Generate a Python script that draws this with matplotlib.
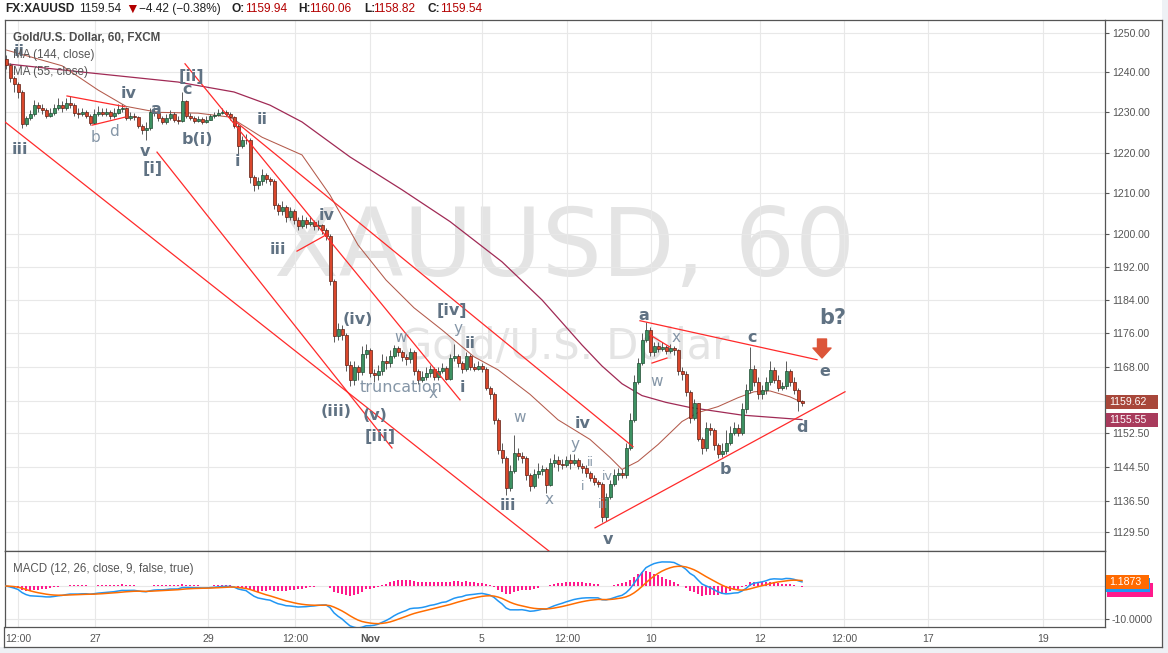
import numpy as np
import pandas as pd
import matplotlib
matplotlib.use("Agg")
import matplotlib.pyplot as plt
from matplotlib.lines import Line2D
from matplotlib.patches import Rectangle
from matplotlib.ticker import NullLocator, NullFormatter

plt.rcParams["font.family"] = ["Liberation Sans", "DejaVu Sans"]

W, H = 1168, 653

# ---------------- data (XAUUSD, 60 min) ----------------
first_open = 1243.5
closes = [
    1242.0, 1238.5, 1237.0, 1235.0, 1227.0, 1228.5, 1229.5, 1231.8, 1231.0, 1230.5,
    1229.2, 1229.8, 1231.2, 1231.8, 1231.0, 1232.3, 1231.8, 1229.8, 1229.5, 1230.0,
    1229.2, 1227.3, 1229.5, 1230.2, 1229.6, 1230.0, 1229.0, 1229.8, 1230.8, 1231.0,
    1228.6, 1229.0, 1228.8, 1226.5, 1225.5, 1226.0, 1230.2, 1229.8, 1228.5, 1227.5,
    1228.6, 1229.5, 1228.0, 1227.8, 1232.8, 1229.0, 1228.5, 1227.9, 1228.3, 1227.6,
    1228.2, 1229.0, 1229.3, 1229.8, 1230.2, 1229.5, 1228.8, 1226.5, 1221.5, 1223.2,
    1223.0, 1214.0, 1212.0, 1213.0, 1214.5, 1213.5, 1213.0, 1207.0, 1205.5, 1206.5,
    1204.0, 1205.5, 1203.5, 1202.0, 1203.5, 1202.5, 1203.0, 1201.8, 1202.2, 1201.0,
    1199.5, 1188.5, 1175.3, 1177.0, 1175.5, 1168.5, 1165.0, 1168.0, 1166.8, 1171.0,
    1172.0, 1166.5, 1166.0, 1167.0, 1169.5, 1169.0, 1170.5, 1172.5, 1171.5, 1170.3,
    1169.8, 1171.5, 1167.0, 1165.0, 1165.5, 1166.5, 1167.5, 1165.5, 1167.0, 1167.8,
    1165.2, 1170.0, 1170.5, 1168.8, 1167.5, 1170.5, 1168.0, 1167.6, 1168.2, 1167.5,
    1163.0, 1161.5, 1155.5, 1148.5, 1146.5, 1139.5, 1143.5, 1147.8, 1147.0, 1146.5,
    1142.5, 1140.0, 1142.8, 1143.5, 1144.0, 1140.2, 1145.5, 1146.0, 1145.2, 1145.0,
    1146.0, 1145.5, 1146.2, 1144.8, 1144.2, 1143.0, 1142.0, 1141.0, 1140.5, 1133.0,
    1137.5, 1140.5, 1142.5, 1143.0, 1142.5, 1149.0, 1155.5, 1164.5, 1169.0, 1174.5,
    1176.8, 1171.5, 1173.0, 1172.3, 1172.8, 1171.8, 1172.6, 1172.0, 1167.0, 1166.3,
    1162.0, 1156.0, 1159.5, 1151.0, 1148.8, 1153.5, 1153.0, 1149.5, 1147.5, 1148.2,
    1150.0, 1152.5, 1153.5, 1152.5, 1158.0, 1162.5, 1167.5, 1164.5, 1161.5, 1162.5,
    1164.5, 1167.3, 1165.0, 1163.0, 1163.5, 1167.0, 1164.5, 1162.5, 1159.94, 1159.54,
]
highs = [
    1244.5, 1242.5, 1239.0, 1237.5, 1235.5, 1229.0, 1230.5, 1233.0, 1232.5, 1232.0,
    1231.0, 1231.0, 1232.0, 1233.5, 1232.8, 1233.5, 1234.0, 1232.3, 1231.0, 1231.0,
    1230.5, 1229.5, 1230.8, 1231.5, 1231.0, 1231.0, 1230.5, 1231.0, 1232.0, 1232.0,
    1231.3, 1230.0, 1229.8, 1229.2, 1227.0, 1227.5, 1231.0, 1231.3, 1230.2, 1229.0,
    1229.5, 1230.5, 1230.0, 1229.0, 1235.0, 1233.0, 1229.8, 1229.0, 1229.0, 1228.8,
    1229.0, 1229.7, 1230.0, 1230.8, 1231.0, 1230.5, 1230.0, 1229.0, 1227.0, 1224.0,
    1224.5, 1223.5, 1214.5, 1214.0, 1216.0, 1215.0, 1214.0, 1213.5, 1207.5, 1208.0,
    1207.0, 1206.5, 1206.0, 1204.0, 1204.5, 1204.0, 1204.3, 1203.5, 1203.5, 1202.5,
    1201.5, 1200.0, 1189.0, 1178.5, 1178.0, 1176.0, 1169.5, 1169.5, 1168.5, 1173.0,
    1173.5, 1172.5, 1167.5, 1168.5, 1171.0, 1170.5, 1172.0, 1173.2, 1173.0, 1172.0,
    1171.0, 1172.5, 1172.0, 1167.5, 1167.0, 1168.0, 1168.5, 1168.0, 1168.0, 1169.0,
    1168.3, 1171.0, 1173.5, 1171.0, 1169.5, 1171.5, 1171.0, 1169.0, 1169.3, 1168.8,
    1168.0, 1163.5, 1162.0, 1156.0, 1150.0, 1147.0, 1145.0, 1152.0, 1149.0, 1148.0,
    1147.0, 1143.0, 1144.0, 1145.5, 1145.0, 1144.5, 1146.5, 1147.5, 1147.0, 1146.3,
    1147.0, 1147.5, 1147.5, 1146.5, 1145.5, 1145.0, 1143.5, 1142.5, 1141.5, 1141.0,
    1138.5, 1141.5, 1144.0, 1144.2, 1144.0, 1150.0, 1157.0, 1166.0, 1170.0, 1176.0,
    1178.8, 1177.5, 1174.0, 1173.8, 1174.0, 1173.3, 1173.4, 1173.0, 1172.3, 1168.0,
    1167.0, 1162.5, 1160.5, 1159.5, 1151.5, 1155.0, 1154.8, 1153.5, 1150.0, 1150.0,
    1153.0, 1154.0, 1155.0, 1154.5, 1159.5, 1164.0, 1172.8, 1168.5, 1165.5, 1163.8,
    1165.5, 1169.5, 1168.0, 1166.0, 1164.5, 1169.5, 1167.5, 1165.5, 1163.0, 1160.06,
]
lows = [
    1241.0, 1237.5, 1235.0, 1233.5, 1226.0, 1226.5, 1228.0, 1229.0, 1230.0, 1229.5,
    1228.5, 1228.8, 1229.3, 1230.5, 1230.2, 1230.5, 1231.0, 1229.0, 1228.5, 1229.0,
    1228.5, 1226.8, 1227.0, 1229.0, 1229.0, 1229.0, 1228.3, 1228.5, 1229.5, 1230.0,
    1228.0, 1228.0, 1228.0, 1226.0, 1224.5, 1223.0, 1225.5, 1229.0, 1227.8, 1227.0,
    1227.0, 1228.0, 1227.5, 1227.0, 1227.5, 1228.5, 1228.0, 1227.3, 1227.5, 1227.0,
    1227.3, 1228.0, 1228.5, 1229.0, 1229.5, 1229.0, 1228.0, 1226.0, 1219.5, 1221.0,
    1222.0, 1212.5, 1210.5, 1211.0, 1212.0, 1212.5, 1212.0, 1206.0, 1204.5, 1204.5,
    1203.0, 1203.5, 1202.5, 1201.0, 1201.5, 1201.5, 1202.0, 1201.0, 1201.0, 1200.0,
    1198.5, 1187.5, 1174.0, 1174.5, 1174.5, 1167.0, 1163.5, 1163.8, 1165.0, 1166.0,
    1170.0, 1165.5, 1164.5, 1165.0, 1166.0, 1167.5, 1168.0, 1170.0, 1170.5, 1169.5,
    1168.5, 1169.0, 1166.0, 1164.0, 1164.5, 1165.0, 1165.5, 1164.8, 1165.0, 1166.5,
    1164.8, 1165.0, 1169.5, 1168.0, 1166.5, 1167.0, 1167.2, 1167.0, 1167.2, 1166.8,
    1162.5, 1160.5, 1154.5, 1147.5, 1145.5, 1138.0, 1139.0, 1143.0, 1146.0, 1145.5,
    1141.5, 1139.0, 1139.5, 1142.0, 1142.5, 1138.5, 1140.0, 1144.5, 1143.5, 1144.0,
    1144.5, 1144.0, 1145.0, 1144.0, 1143.0, 1142.2, 1141.2, 1140.2, 1139.8, 1131.8,
    1132.0, 1137.0, 1140.0, 1141.5, 1141.8, 1142.0, 1148.5, 1155.0, 1164.0, 1168.5,
    1174.0, 1170.5, 1170.5, 1171.5, 1171.8, 1171.0, 1171.3, 1170.8, 1166.0, 1165.0,
    1161.0, 1154.8, 1155.5, 1150.5, 1147.5, 1148.3, 1152.0, 1148.5, 1146.5, 1146.8,
    1147.5, 1149.5, 1152.0, 1151.8, 1152.0, 1157.0, 1161.8, 1163.5, 1160.5, 1160.5,
    1161.5, 1163.8, 1164.2, 1162.3, 1162.5, 1162.8, 1163.5, 1161.5, 1157.5, 1158.82,
]

# moving averages (bar index, value)
ma55_bars = [0, 14, 23, 30, 38, 48, 56, 64, 74, 81, 88, 95, 102, 109, 117, 123,
             131, 138, 146, 151, 154, 158, 163, 169, 173, 178, 183, 187, 191, 196, 199]
ma55_vals = [1245.7, 1241.7, 1235.6, 1231.5, 1230.0, 1229.8, 1228.8, 1223.8, 1219.4,
             1209.5, 1197.3, 1188.8, 1182.1, 1176.8, 1170.4, 1167.3, 1161.5, 1155.5,
             1150.9, 1146.7, 1143.9, 1145.8, 1149.7, 1155.1, 1157.2, 1158.6, 1160.7,
             1162.1, 1162.3, 1160.9, 1159.62]
ma144_bars = [0, 21, 43, 57, 66, 74, 86, 99, 111, 124, 134, 144, 149, 154, 159,
              165, 171, 184, 199]
ma144_vals = [1242.2, 1239.9, 1237.6, 1235.1, 1231.8, 1227.6, 1218.9, 1210.8, 1203.0,
              1193.2, 1184.0, 1173.2, 1168.2, 1164.0, 1161.2, 1159.6, 1158.4, 1156.6,
              1155.55]

# hand-drawn trend lines (bar index, price)
trend_start = [(-0.25, 1227.6), (37.75, 1220.1), (44.75, 1242.2), (57.5, 1227.6),
               (15.25, 1234.1), (21.5, 1226.8), (72.75, 1195.8), (161.0, 1175.6),
               (161.5, 1168.9), (158.5, 1179.0), (147.25, 1130.4)]
trend_end = [(136.0, 1124.9), (96.5, 1148.9), (113.5, 1160.2), (156.75, 1149.2),
             (29.75, 1231.4), (29.75, 1228.8), (80.5, 1200.0), (166.0, 1172.7),
             (165.25, 1170.1), (202.75, 1169.7), (209.75, 1162.1)]

price_ticks = [1250, 1240, 1230, 1220, 1210, 1200, 1192, 1184, 1176, 1168, 1160,
               1152.5, 1144.5, 1136.5, 1129.5]
time_ticks = [3.0, 22.25, 50.5, 72.25, 91.0, 119.0, 140.25, 161.25, 188.5, 209.5,
              230.5, 259.25]
time_labels = ["12:00", "27", "29", "12:00", "Nov", "5", "12:00", "10", "12",
               "12:00", "17", "19"]
macd_last = 1.1873

# wave-count annotations: text, pixel x, pixel y, style
wave_labels = [
    ("ii", 19, 52, "b"), ("iii", 20, 150, "b"), ("b", 95, 137, "l"),
    ("d", 114, 132, "l"), ("iv", 129, 93, "b"), ("a", 156, 110, "b"),
    ("v", 145, 152, "b"), ("[i]", 153, 169, "b"), ("[ii]", 191, 77, "b"),
    ("c", 187, 90, "b"), ("b(i)", 197, 140, "b"), ("i", 237, 161, "b"),
    ("ii", 262, 119, "b"), ("iii", 278, 250, "b"), ("iv", 327, 215, "b"),
    ("(iv)", 358, 320, "b"), ("w", 401, 337, "l"), ("[iv]", 452, 311, "b"),
    ("y", 458, 328, "l"), ("ii", 470, 343, "b"), ("truncation", 401, 388, "t"),
    ("x", 433, 393, "l"), ("i", 462, 388, "b"), ("(iii)", 336, 412, "b"),
    ("(v)", 375, 415, "b"), ("[iii]", 380, 437, "b"), ("w", 520, 418, "l"),
    ("iii", 508, 506, "b"), ("x", 549, 500, "l"), ("y", 575, 445, "l"),
    ("iv", 583, 423, "b"), ("ii", 590, 463, "s"), ("i", 583, 487, "s"),
    ("iv", 607, 476, "s"), ("iii", 603, 504, "s"), ("v", 608, 540, "b"),
    ("a", 644, 315, "b"), ("x", 676, 337, "l"), ("w", 657, 382, "l"),
    ("b", 725, 469, "b"), ("c", 752, 337, "b"), ("d", 802, 428, "b"),
    ("e", 825, 372, "b"), ("b?", 833, 318, "big"),
]

UP, DOWN = "#3d9162", "#d9472c"
GRID = "#e8e8e8"
FRAME = "#555555"

# ---------------- figure ----------------
fig = plt.figure(figsize=(W / 100, H / 100), dpi=100)
fig.patch.set_facecolor("white")


def fx(px):
    return px / W


def fy(py):
    return 1 - py / H


ax = fig.add_axes([fx(5), fy(551), fx(1105) - fx(5), fy(20) - fy(551)])
ax2 = fig.add_axes([fx(5), fy(627), fx(1105) - fx(5), fy(551) - fy(627)])

xlim = (-0.25, 274.75)
ax.set_xlim(*xlim)
ax2.set_xlim(*xlim)
ax.set_yscale("log")
ax.set_ylim(1125.1, 1253.3)
ax2.set_ylim(-12.4, 10.6)


def to_data(px, py):
    return ax.transData.inverted().transform((px, H - py))


# price axis
ax.set_yticks(price_ticks, labels=["%.2f" % v for v in price_ticks])
ax.yaxis.set_minor_locator(NullLocator())
ax.yaxis.set_minor_formatter(NullFormatter())
ax.yaxis.tick_right()
ax.tick_params(axis="y", direction="out", length=3, width=0.8, color=FRAME,
               labelsize=7.6, labelcolor="#555555", pad=2)
ax.set_xticks(time_ticks, labels=[""] * len(time_ticks))
ax.tick_params(axis="x", length=0)
ax.grid(True, color=GRID, lw=0.8)
ax.set_axisbelow(True)

ax2.set_yticks([0, -10], labels=["0.0000", "-10.0000"])
ax2.yaxis.tick_right()
ax2.tick_params(axis="y", direction="out", length=3, width=0.8, color=FRAME,
                labelsize=7.6, labelcolor="#555555", pad=2)
ax2.set_xticks(time_ticks, labels=time_labels)
ax2.tick_params(axis="x", length=0, labelsize=7.6, labelcolor="#555555", pad=5)
ax2.get_xticklabels()[4].set_fontweight("bold")
ax2.grid(True, color=GRID, lw=0.8)
ax2.set_axisbelow(True)

for a in (ax, ax2):
    for s in a.spines.values():
        s.set_color(FRAME)
        s.set_linewidth(0.9)

# watermark
wx, wy = to_data(565, 250)
ax.text(wx, wy, "XAUUSD, 60", fontsize=68, color="#e4e4e4", ha="center",
        va="center", family="DejaVu Sans", zorder=0.5)
wx, wy = to_data(565, 347)
ax.text(wx, wy, "Gold/U.S. Dollar", fontsize=30, color="#e4e4e4", ha="center",
        va="center", family="DejaVu Sans", zorder=0.5)

# moving averages
ax.plot(ma144_bars, ma144_vals, color="#a02a55", lw=0.9, zorder=2)
ax.plot(ma55_bars, ma55_vals, color="#b35a4b", lw=0.75, zorder=2)

# candles
x = np.arange(len(closes))
c = np.array(closes)
o = np.array([first_open] + closes[:-1])
up = c >= o
ax.vlines(x, lows, highs, color="#5a5a5a", lw=0.7, zorder=3)
ax.bar(x, np.maximum(np.abs(c - o), 0.2), bottom=np.minimum(o, c), width=0.75,
       color=np.where(up, UP, DOWN), edgecolor=np.where(up, "#1e4a30", "#5e1d12"),
       linewidth=0.5, zorder=4)

# trend lines
for (x0, y0), (x1, y1) in zip(trend_start, trend_end):
    ax.plot([x0, x1], [y0, y1], color="#ff2a2a", lw=0.9, zorder=5)

# wave labels
styles = {
    "b": dict(fontsize=11.5, fontweight="bold", color="#607283"),
    "l": dict(fontsize=11, color="#8596a7"),
    "t": dict(fontsize=11.5, color="#8596a7"),
    "s": dict(fontsize=9, color="#8596a7"),
    "big": dict(fontsize=15, fontweight="bold", color="#607283"),
}
for txt, px, py, st in wave_labels:
    lx, ly = to_data(px, py)
    ax.text(lx, ly, txt, ha="center", va="center", family="DejaVu Sans",
            zorder=6, **styles[st])

# sell arrow
a0 = to_data(822, 339)
a1 = to_data(822, 358)
ax.annotate("", xy=a1, xytext=a0,
            arrowprops=dict(arrowstyle="simple,head_length=0.55,head_width=1.0,tail_width=0.5",
                            color="#dc5539", mutation_scale=13, shrinkA=0, shrinkB=0),
            zorder=6)

# MACD
cs = pd.Series(closes)
macd = cs.ewm(span=12, adjust=False).mean() - cs.ewm(span=26, adjust=False).mean()
signal = macd.ewm(span=9, adjust=False).mean()
hist = macd - signal
ax2.bar(x, hist, width=0.35, color="#ff1a8c", zorder=2)
ax2.plot(x, macd, color="#2196f3", lw=1.1, zorder=3)
ax2.plot(x, signal, color="#ff6d00", lw=1.1, zorder=3)

# texts
fig.text(fx(13), fy(38), "Gold/U.S. Dollar, 60, FXCM", fontsize=8.4,
         fontweight="bold", color="#4d4d4d", va="center")
fig.text(fx(13), fy(55), "MA (144, close)", fontsize=8.4, color="#555555", va="center")
fig.text(fx(13), fy(72), "MA (55, close)", fontsize=8.4, color="#555555", va="center")
fig.text(fx(13), fy(569), "MACD (12, 26, close, 9, false, true)", fontsize=8.3,
         color="#555555", va="center")

header = [("FX:XAUUSD", 5, "bold", "#222222"), ("1159.54", 79, "normal", "#222222"),
          ("\u25bc", 125, "normal", "#b20000"), ("\u22124.42 (\u22120.38%)", 139, "normal", "#222222"),
          ("O:", 232, "bold", "#222222"), ("1159.94", 245, "normal", "#b30000"),
          ("H:", 298, "bold", "#222222"), ("1160.06", 309, "normal", "#b30000"),
          ("L:", 364, "bold", "#222222"), ("1158.82", 373, "normal", "#b30000"),
          ("C:", 427, "bold", "#222222"), ("1159.54", 440, "normal", "#b30000")]
for txt, px, wt, col in header:
    size = 10 if txt == "\u25bc" else 8.6
    fig.text(fx(px), fy(9), txt, fontsize=size, fontweight=wt, color=col, va="center")


# value boxes on the scales
def box(a, value, text, color, width, dx=0, dy=0, show=True):
    yd = a.transData.transform((0, value))[1] - dy
    fig.patches.append(Rectangle(((1106 + dx) / W, (yd - 7) / H), width / W, 14 / H,
                                 transform=fig.transFigure, facecolor=color,
                                 edgecolor="none", zorder=5))
    if show:
        fig.text((1109 + dx) / W, yd / H, text, color="white", fontsize=7.6,
                 va="center", ha="left", zorder=6)


box(ax, ma55_vals[-1], "%.2f" % ma55_vals[-1], "#a8473a", 52)
box(ax, ma144_vals[-1], "%.2f" % ma144_vals[-1], "#a83b5c", 52)
box(ax2, macd_last, "", "#ff1a8c", 46, dx=1, dy=8, show=False)
box(ax2, macd_last, "", "#2196f3", 44, dy=3, show=False)
box(ax2, macd_last, "%.4f" % macd_last, "#ff6a00", 43)

# outer frame and background strips
fig.patches.append(Rectangle((fx(1162), 0), 1 - fx(1162), 1, transform=fig.transFigure,
                             facecolor="#eef1f5", edgecolor="none", zorder=-1))
fig.patches.append(Rectangle((0, 0), 1, fy(647), transform=fig.transFigure,
                             facecolor="#eef1f5", edgecolor="none", zorder=-1))
for (x0, y0), (x1, y1) in [((4, 647), (1162, 647)), ((1162, 20), (1162, 647)),
                           ((1105, 20), (1162, 20)), ((4, 627), (4, 647))]:
    fig.add_artist(Line2D([fx(x0), fx(x1)], [fy(y0), fy(y1)], color=FRAME, lw=0.9,
                          transform=fig.transFigure))

fig.savefig("out.png", dpi=100, facecolor=fig.get_facecolor())
